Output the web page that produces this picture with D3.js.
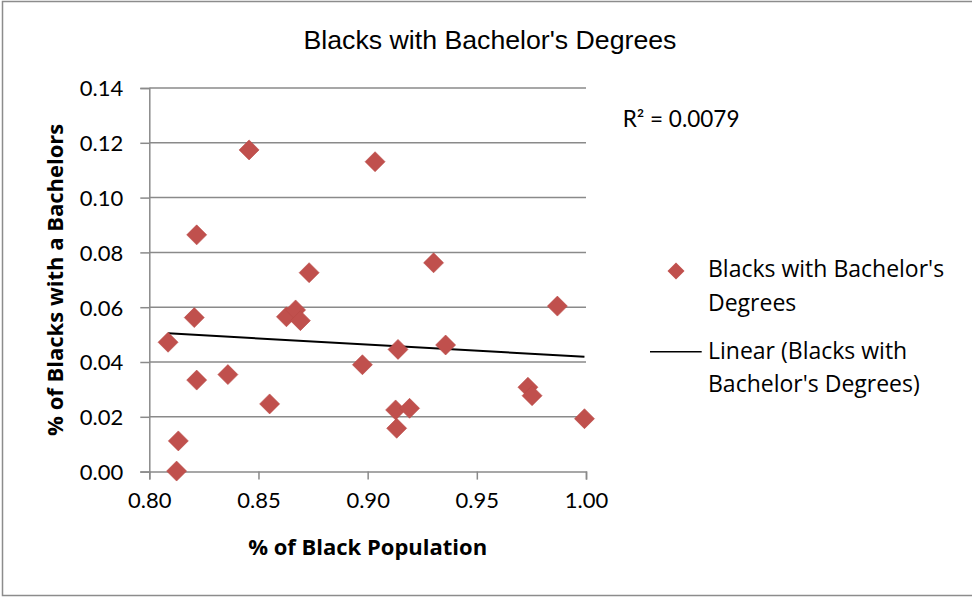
<!DOCTYPE html>
<html>
<head>
<meta charset="utf-8">
<script src="https://cdn.jsdelivr.net/npm/d3@7"></script>
<style>
  html, body { margin: 0; padding: 0; background: #fff; }
  svg { display: block; }
</style>
</head>
<body>
<svg id="chart" width="972" height="597"></svg>
<script>
// Share of the population that is Black (x) vs. share of Blacks holding a bachelor's degree (y)
const blackPopulation = [
  0.8457, 0.8217, 0.8732, 0.9034, 0.9302, 0.8206, 0.8086, 0.8628, 0.8670,
  0.8692, 0.8217, 0.8360, 0.8551, 0.8133, 0.8125, 0.8976, 0.9869, 0.9139,
  0.9357, 0.9734, 0.9753, 0.9128, 0.9192, 0.9133, 0.9993
];
const bachelorsShare = [
  0.1174, 0.0864, 0.0726, 0.1131, 0.0762, 0.0562, 0.0472, 0.0565, 0.0590,
  0.0551, 0.0334, 0.0354, 0.0247, 0.0112, 0.0002, 0.0390, 0.0604, 0.0446,
  0.0462, 0.0308, 0.0277, 0.0225, 0.0231, 0.0158, 0.0193
];
const xTicks = [0.80, 0.85, 0.90, 0.95, 1.00];
const yTicks = [0.00, 0.02, 0.04, 0.06, 0.08, 0.10, 0.12, 0.14];
const chartTitle = "Blacks with Bachelor's Degrees";
const xTitle = "% of Black Population";
const yTitle = "% of Blacks with a Bachelors";
const rSquaredLabel = "R² = 0.0079";
const legendSeries = ["Blacks with Bachelor's", "Degrees"];
const legendTrend = ["Linear (Blacks with", "Bachelor's Degrees)"];

const points = blackPopulation.map((x, i) => ({ x, y: bachelorsShare[i] }));

const svg = d3.select("#chart");
const markerColor = "#C0504D";
const gridColor = "#8a8a8a";
const bodyFont = "'Open Sans', Lato, sans-serif";

// chart frame
svg.append("rect")
  .attr("x", 2.5).attr("y", 1.5)
  .attr("width", 972).attr("height", 594)
  .attr("fill", "#fff").attr("stroke", "#8c8c8c").attr("stroke-width", 1.5);

const x = d3.scaleLinear().domain([0.80, 1.00]).range([149.3, 586]);
const y = d3.scaleLinear().domain([0, 0.14]).range([471.6, 88]);

// horizontal gridlines
svg.append("g")
  .selectAll("line")
  .data(yTicks.filter(t => t > 0))
  .join("line")
  .attr("x1", x(0.80)).attr("x2", x(1.00))
  .attr("y1", d => y(d)).attr("y2", d => y(d))
  .attr("stroke", gridColor).attr("stroke-width", 1.5);

// axes
const yAxis = svg.append("g")
  .attr("transform", `translate(${x(0.80)},0)`)
  .call(d3.axisLeft(y).tickValues(yTicks).tickFormat(d3.format(".2f")).tickSize(9).tickPadding(17));
const xAxis = svg.append("g")
  .attr("transform", `translate(0,${y(0)})`)
  .call(d3.axisBottom(x).tickValues(xTicks).tickFormat(d3.format(".2f")).tickSize(8).tickPadding(12));

[yAxis, xAxis].forEach(g => {
  g.select(".domain").attr("stroke", gridColor).attr("stroke-width", 1.5);
  g.selectAll(".tick line").attr("stroke", gridColor).attr("stroke-width", 1.5);
  g.selectAll(".tick text")
    .attr("fill", "#000")
    .style("font-size", "22px")
    .style("font-family", "Lato, 'Open Sans', sans-serif");
});
yAxis.selectAll(".tick text").attr("dy", "0.36em");
xAxis.selectAll(".tick text").attr("dy", "0.75em");

// linear trendline from least squares over the plotted points
const mx = d3.mean(points, d => d.x);
const my = d3.mean(points, d => d.y);
const slope = d3.sum(points, d => (d.x - mx) * (d.y - my)) / d3.sum(points, d => (d.x - mx) ** 2);
const intercept = my - slope * mx;
const xExtent = d3.extent(points, d => d.x);
svg.append("path")
  .datum(xExtent.map(v => ({ x: v, y: intercept + slope * v })))
  .attr("d", d3.line().x(d => x(d.x)).y(d => y(d.y)))
  .attr("fill", "none").attr("stroke", "#000").attr("stroke-width", 2);

// diamond markers
const diamond = r => `M0,${-r}L${r},0L0,${r}L${-r},0Z`;
svg.append("g")
  .selectAll("path")
  .data(points)
  .join("path")
  .attr("transform", d => `translate(${x(d.x)},${y(d.y)})`)
  .attr("d", diamond(10))
  .attr("fill", markerColor)
  .attr("stroke", "#b84a47").attr("stroke-width", 0.6);

// titles
svg.append("text")
  .attr("x", 490).attr("y", 49)
  .attr("text-anchor", "middle")
  .style("font-family", "'Liberation Sans', Arial, sans-serif")
  .style("font-size", "26.7px")
  .text(chartTitle);

svg.append("text")
  .attr("x", (x(0.80) + x(1.00)) / 2).attr("y", 555)
  .attr("text-anchor", "middle")
  .style("font-family", bodyFont).style("font-weight", "bold")
  .style("font-size", "22px")
  .text(xTitle);

svg.append("text")
  .attr("transform", `translate(62.7,${(y(0) + y(0.14)) / 2}) rotate(-90)`)
  .attr("text-anchor", "middle")
  .style("font-family", bodyFont).style("font-weight", "bold")
  .style("font-size", "22px")
  .text(yTitle);

// R² annotation
svg.append("text")
  .attr("x", 622.7).attr("y", 126.7)
  .style("font-family", "Lato, 'Open Sans', sans-serif").style("font-size", "22.5px")
  .text(rSquaredLabel);

// legend
const legend = svg.append("g");
legend.append("path")
  .attr("transform", "translate(676,271)")
  .attr("d", diamond(8.5))
  .attr("fill", markerColor);
legend.append("text")
  .style("font-family", bodyFont).style("font-size", "23px")
  .selectAll("tspan").data(legendSeries).join("tspan")
  .attr("x", 708).attr("y", (d, i) => 277.3 + i * 33.3)
  .text(d => d);
legend.append("line")
  .attr("x1", 650).attr("x2", 701.7)
  .attr("y1", 351.7).attr("y2", 351.7)
  .attr("stroke", "#000").attr("stroke-width", 1.5);
legend.append("text")
  .style("font-family", bodyFont).style("font-size", "23px")
  .selectAll("tspan").data(legendTrend).join("tspan")
  .attr("x", 708).attr("y", (d, i) => 359 + i * 33)
  .text(d => d);
</script>
</body>
</html>
